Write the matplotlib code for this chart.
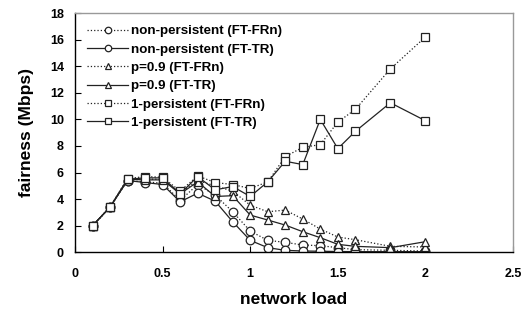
import numpy as np
import matplotlib
matplotlib.use("Agg")
import matplotlib.pyplot as plt

plt.rcParams['font.family'] = ['Liberation Sans', 'DejaVu Sans']
plt.rcParams['font.weight'] = 'bold'

# network load
load = [0.1, 0.2, 0.3, 0.4, 0.5, 0.6, 0.7, 0.8, 0.9, 1.0,
        1.1, 1.2, 1.3, 1.4, 1.5, 1.6, 1.8, 2.0]

# fairness (Mbps)
np_frn = [2.0, 3.4, 5.4, 5.3, 5.2, 3.9, 5.1, 4.3, 3.05, 1.6,
          0.9, 0.75, 0.55, 0.5, 0.35, 0.2, 0.15, 0.1]
np_tr = [2.0, 3.4, 5.4, 5.25, 5.1, 3.8, 4.45, 3.85, 2.3, 0.9,
         0.35, 0.15, 0.1, 0.08, 0.06, 0.05, 0.05, 0.05]
p9_frn = [2.0, 3.4, 5.5, 5.5, 5.5, 4.5, 5.4, 5.0, 4.6, 3.55,
          3.05, 3.18, 2.5, 1.75, 1.15, 0.95, 0.45, 0.4]
p9_tr = [2.0, 3.4, 5.5, 5.45, 5.45, 4.4, 5.3, 4.2, 4.26, 2.8,
         2.43, 2.05, 1.55, 1.1, 0.6, 0.45, 0.35, 0.8]
p1_frn = [2.0, 3.4, 5.55, 5.7, 5.65, 4.6, 5.75, 5.25, 5.1, 4.8,
          5.3, 7.2, 7.9, 8.1, 9.8, 10.75, 13.8, 16.2]
p1_tr = [2.0, 3.4, 5.5, 5.6, 5.6, 4.4, 5.7, 4.7, 4.95, 4.2,
         5.3, 6.85, 6.6, 10.0, 7.8, 9.1, 11.25, 9.9]

fig = plt.figure(figsize=(5.3, 3.11), dpi=100)
ax = fig.add_axes([0.1415, 0.1887, 0.8265, 0.7693])

mk = dict(color='#222222', markerfacecolor='white', markeredgecolor='#222222',
          markersize=6.2, linewidth=0.9, markeredgewidth=0.9)

ax.plot(load, np_frn, linestyle=':', marker='o', label='non-persistent (FT-FRn)', **mk)
ax.plot(load, np_tr, linestyle='-', marker='o', label='non-persistent (FT-TR)', **mk)
ax.plot(load, p9_frn, linestyle=':', marker='^', label='p=0.9 (FT-FRn)', **mk)
ax.plot(load, p9_tr, linestyle='-', marker='^', label='p=0.9 (FT-TR)', **mk)
ax.plot(load, p1_frn, linestyle=':', marker='s', label='1-persistent (FT-FRn)', **mk)
ax.plot(load, p1_tr, linestyle='-', marker='s', label='1-persistent (FT-TR)', **mk)

ax.set_xlim(0, 2.5)
ax.set_ylim(0, 18)
ax.set_xticks(np.arange(0, 2.51, 0.5))
ax.set_xticklabels(['0', '0.5', '1', '1.5', '2', '2.5'])
ax.set_yticks(np.arange(0, 18.1, 2))
ax.tick_params(direction='in', labelsize=9, length=4)
ax.tick_params(axis='y', pad=8)
ax.tick_params(axis='x', pad=11)
for lab in ax.get_xticklabels() + ax.get_yticklabels():
    lab.set_fontweight('bold')

ax.spines['left'].set_color('black')
ax.spines['bottom'].set_color('black')
ax.spines['top'].set_color('#999999')
ax.spines['right'].set_color('#999999')
for s in ax.spines.values():
    s.set_linewidth(1.0)

ax.set_xlabel('network load', fontsize=12.5, fontweight='bold', labelpad=9)
ax.set_ylabel('fairness (Mbps)', fontsize=12.5, fontweight='bold', labelpad=11)

ax.legend(loc='upper left', frameon=False, handlelength=3.1, markerscale=0.75,
          labelspacing=0.45, handletextpad=0.2, borderaxespad=0.5,
          prop={'weight': 'bold', 'size': 9.6})

fig.savefig('out.png', dpi=100)
